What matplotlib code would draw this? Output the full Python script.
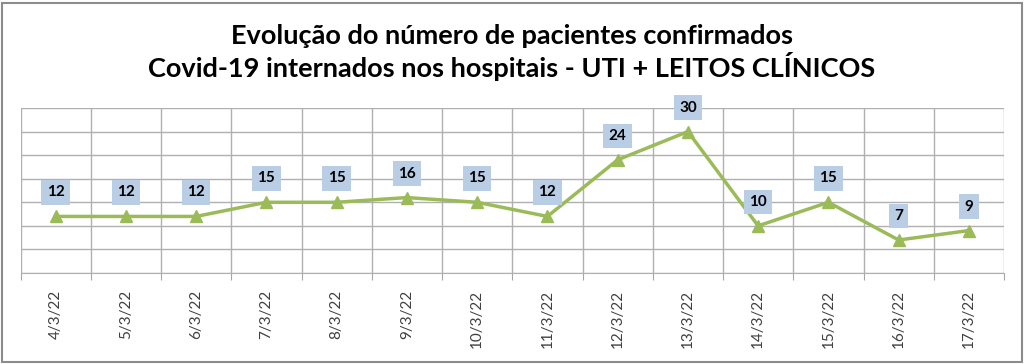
import matplotlib
matplotlib.use("Agg")
import matplotlib.pyplot as plt
from matplotlib.patches import Rectangle

plt.rcParams['font.family'] = ['Lato', 'DejaVu Sans']

# dados
datas = ['4/3/22', '5/3/22', '6/3/22', '7/3/22', '8/3/22', '9/3/22', '10/3/22',
         '11/3/22', '12/3/22', '13/3/22', '14/3/22', '15/3/22', '16/3/22', '17/3/22']
pacientes = [12, 12, 12, 15, 15, 16, 15, 12, 24, 30, 10, 15, 7, 9]

titulo = ('Evolução do número de pacientes confirmados\n'
          'Covid-19 internados nos hospitais - UTI + LEITOS CLÍNICOS')

fig = plt.figure(figsize=(10.24, 3.64), dpi=100)
ax = fig.add_axes([20.5 / 1024, 1 - 273 / 364, (1004 - 20.5) / 1024, (273 - 108) / 364])

x = list(range(len(datas)))
ax.plot(x, pacientes, color='#9bbb59', lw=2.5, marker='^', ms=9, zorder=3)

# rotulos de dados com caixa azul
for xi, v in zip(x, pacientes):
    ax.annotate(str(v), (xi, v), xytext=(0, 24), textcoords='offset pixels',
                ha='center', va='center', fontsize=11, fontweight='bold',
                bbox=dict(boxstyle='square,pad=0.35', fc='#b9cde5', ec='none'), zorder=4)

ax.set_xlim(-0.5, len(datas) - 0.5)
ax.set_ylim(0, 35)
ax.set_yticks(range(0, 36, 5))
ax.set_yticklabels([])
ax.tick_params(axis='y', length=0)
ax.set_xticks([i + 0.5 for i in range(-1, len(datas))])
ax.set_xticklabels([])
ax.tick_params(axis='x', which='major', length=5, color='#a6a6a6')
ax.set_xticks(x, minor=True)
ax.set_xticklabels(datas, minor=True, rotation=90, fontsize=11, color='#404040')
ax.tick_params(axis='x', which='minor', length=0, pad=12)
ax.grid(True, which='major', color='#b0b0b0', lw=1)
for s in ax.spines.values():
    s.set_color('#b0b0b0')
ax.spines['top'].set_visible(False)
ax.spines['right'].set_visible(False)
ax.spines['left'].set_visible(False)

fig.suptitle(titulo, y=1 - 24 / 364, va='top', fontsize=19.5, fontweight='bold', linespacing=1.15)

# moldura externa
fig.patches.append(Rectangle((2 / 1024, 2 / 364), 1020 / 1024, 359 / 364, transform=fig.transFigure,
                             fill=False, ec='#8c8c8c', lw=1.5))

fig.savefig('out.png', dpi=100)
